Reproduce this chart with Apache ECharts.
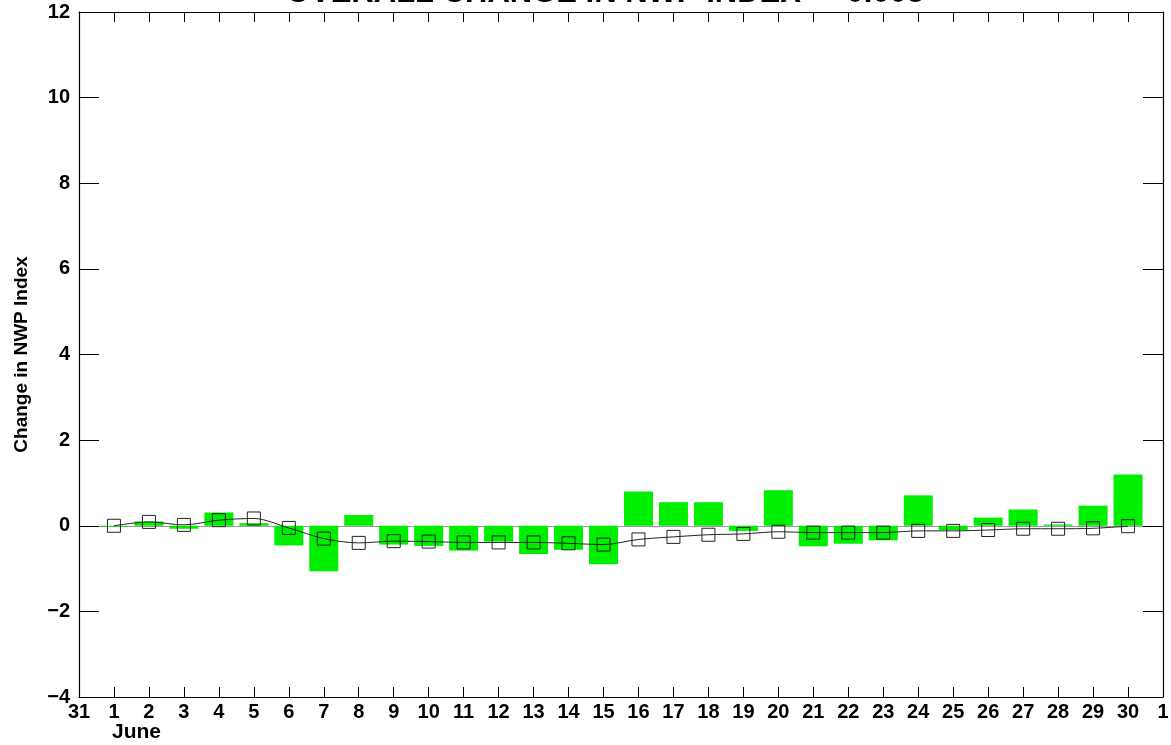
<!DOCTYPE html>
<html>
<head>
<meta charset="utf-8">
<script src="https://cdn.jsdelivr.net/npm/echarts@6/dist/echarts.min.js"></script>
<style>
html,body{margin:0;padding:0;background:#fff;}
#chart{width:1171px;height:745px;}
</style>
</head>
<body>
<div id="chart"></div>
<script>
const days = [1,2,3,4,5,6,7,8,9,10,11,12,13,14,15,16,17,18,19,20,21,22,23,24,25,26,27,28,29,30];
const dailyChange = [-0.02,0.10,-0.07,0.31,0.06,-0.46,-1.06,0.25,-0.44,-0.47,-0.58,-0.37,-0.66,-0.56,-0.90,0.80,0.55,0.55,-0.12,0.83,-0.48,-0.42,-0.34,0.71,-0.10,0.19,0.38,0.03,0.47,1.20];
const cumulative = [0.00,0.09,0.02,0.13,0.17,-0.05,-0.30,-0.40,-0.36,-0.37,-0.39,-0.39,-0.39,-0.41,-0.44,-0.32,-0.26,-0.21,-0.19,-0.14,-0.16,-0.16,-0.16,-0.12,-0.12,-0.10,-0.07,-0.07,-0.06,-0.01];
const xTickLabels = ['31','1','2','3','4','5','6','7','8','9','10','11','12','13','14','15','16','17','18','19','20','21','22','23','24','25','26','27','28','29','30','1'];
const titleText = 'OVERALL CHANGE IN NWP INDEX = -0.008';
const yName = 'Change in NWP Index';
const monthLabel = 'June';

const chart = echarts.init(document.getElementById('chart'));
const font = 'Liberation Sans, Arial, sans-serif';
const grid = {left:79, right:8, top:12, bottom:48, outerBoundsMode:'none', containLabel:false};
const axisLine = {show:true, onZero:false, lineStyle:{color:'#000', width:1.2}};

chart.setOption({
  animation:false,
  backgroundColor:'#fff',
  grid: grid,
  graphic:[
    {type:'text', x:605, y:-22, style:{text:titleText, font:'bold 31px '+font, fill:'#000', textAlign:'center', textVerticalAlign:'top'}},
    {type:'text', left:112, top:722, style:{text:monthLabel, font:'bold 21px '+font, fill:'#000'}}
  ],
  xAxis:[
    {type:'value', min:0, max:31, interval:1, position:'bottom',
     axisLine:axisLine, splitLine:{show:false},
     axisTick:{show:true, inside:true, length:10, lineStyle:{color:'#000', width:1}},
     axisLabel:{show:true, margin:5, color:'#000', fontFamily:font, fontWeight:'bold', fontSize:20,
       formatter:v => xTickLabels[Math.round(v)]}},
    {type:'value', min:0, max:31, interval:1, position:'top',
     axisLine:axisLine, splitLine:{show:false},
     axisTick:{show:true, inside:true, length:10, lineStyle:{color:'#000', width:1}},
     axisLabel:{show:false}}
  ],
  yAxis:[
    {type:'value', min:-4, max:12, interval:2, position:'left',
     axisLine:axisLine, splitLine:{show:false},
     axisTick:{show:true, inside:true, length:20, lineStyle:{color:'#000', width:1}},
     axisLabel:{show:true, margin:9, color:'#000', fontFamily:font, fontWeight:'bold', fontSize:20,
       formatter:v => (v<0 ? '\u2212'+Math.abs(v) : String(v))},
     name:yName, nameLocation:'middle', nameGap:48, nameRotate:90,
     nameTextStyle:{color:'#000', fontFamily:font, fontWeight:'bold', fontSize:19}},
    {type:'value', min:-4, max:12, interval:2, position:'right',
     axisLine:axisLine, splitLine:{show:false},
     axisTick:{show:true, inside:true, length:20, lineStyle:{color:'#000', width:1}},
     axisLabel:{show:false}}
  ],
  series:[
    {type:'bar', xAxisIndex:0, yAxisIndex:0, barWidth:29,
     data: days.map((d,i)=>[d, dailyChange[i]]),
     itemStyle:{color:'#00ee00'},
     markLine:{silent:true, symbol:'none', label:{show:false},
       lineStyle:{color:'#999', width:1, type:'solid'}, data:[{yAxis:0}], z:0}},
    {type:'line', xAxisIndex:0, yAxisIndex:0, smooth:0.3,
     data: days.map((d,i)=>[d, cumulative[i]]),
     lineStyle:{color:'#222', width:1},
     symbol:'rect', symbolSize:13,
     itemStyle:{color:'rgba(0,0,0,0)', borderColor:'#222', borderWidth:1}, z:5}
  ]
});
</script>
</body>
</html>
